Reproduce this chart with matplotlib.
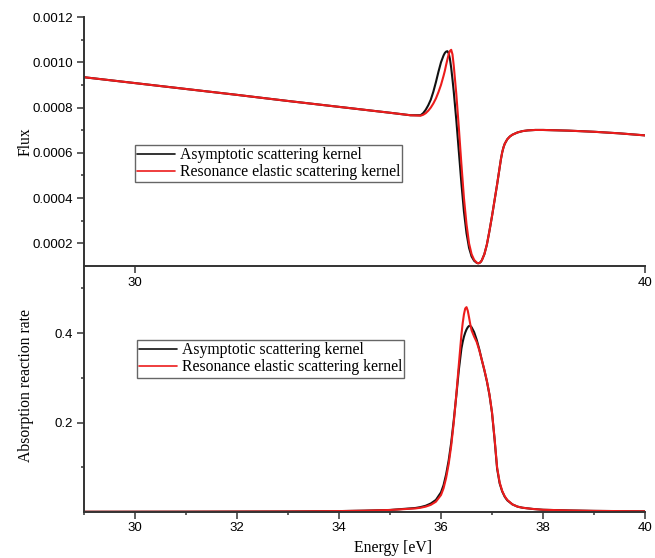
import matplotlib
matplotlib.use('Agg')
import matplotlib.pyplot as plt

# flux spectrum around the 36.7 eV resonance
flux_energy = [29.0, 30.0, 31.0, 32.0, 33.0, 34.0, 35.0, 35.4, 35.6, 35.65, 35.7, 35.75,
               35.8, 35.85, 35.9, 35.95, 36.0, 36.05, 36.075, 36.1, 36.125, 36.15, 36.175,
               36.2, 36.225, 36.25, 36.3, 36.35, 36.4, 36.45, 36.5, 36.55, 36.6, 36.65,
               36.7, 36.725, 36.75, 36.775, 36.8, 36.85, 36.9, 36.95, 37.0, 37.05, 37.1,
               37.15, 37.175, 37.2, 37.225, 37.25, 37.3, 37.35, 37.4, 37.5, 37.6, 37.7,
               37.85, 38.0, 38.5, 39.0, 39.5, 40.0]
flux_asym = [0.000934, 0.000908, 0.000882, 0.000856, 0.000829, 0.000803, 0.000777, 0.000766,
             0.000766, 0.000775, 0.000790, 0.000810, 0.000835, 0.000870, 0.000912, 0.000958,
             0.001000, 0.001030, 0.001041, 0.001047, 0.001049, 0.001040, 0.001015, 0.000975,
             0.000925, 0.000870, 0.000745, 0.000605, 0.000465, 0.000340, 0.000245, 0.000180,
             0.000142, 0.000123, 0.000114, 0.000112, 0.000113, 0.000117, 0.000125, 0.000152,
             0.000195, 0.000255, 0.000320, 0.000390, 0.000460, 0.000535, 0.000572, 0.000602,
             0.000624, 0.000640, 0.000660, 0.000672, 0.000680, 0.000690, 0.000696, 0.000699,
             0.000701, 0.000701, 0.000698, 0.000693, 0.000686, 0.000677]
flux_res = [0.000934, 0.000908, 0.000882, 0.000856, 0.000829, 0.000803, 0.000777, 0.000766,
            0.000764, 0.000768, 0.000775, 0.000786, 0.000800, 0.000818, 0.000840, 0.000868,
            0.000900, 0.000940, 0.000962, 0.000988, 0.001012, 0.001035, 0.001050, 0.001055,
            0.001035, 0.000985, 0.000860, 0.000710, 0.000550, 0.000400, 0.000285, 0.000200,
            0.000152, 0.000127, 0.000115, 0.000112, 0.000113, 0.000117, 0.000125, 0.000152,
            0.000195, 0.000255, 0.000320, 0.000390, 0.000460, 0.000535, 0.000572, 0.000602,
            0.000624, 0.000640, 0.000660, 0.000672, 0.000680, 0.000690, 0.000696, 0.000699,
            0.000701, 0.000701, 0.000698, 0.000693, 0.000686, 0.000677]

# absorption reaction rate
abs_energy = [29.0, 31.0, 33.0, 34.0, 34.5, 35.0, 35.5, 35.6, 35.7, 35.8, 35.9, 36.0, 36.05,
              36.1, 36.15, 36.2, 36.25, 36.3, 36.35, 36.4, 36.425, 36.45, 36.475, 36.5,
              36.525, 36.55, 36.575, 36.6, 36.65, 36.7, 36.75, 36.8, 36.85, 36.9, 36.95,
              37.0, 37.05, 37.1, 37.15, 37.2, 37.25, 37.3, 37.4, 37.5, 37.6, 37.8, 38.0,
              38.5, 39.0, 40.0]
abs_asym = [0.0005, 0.0007, 0.0012, 0.0020, 0.0030, 0.0045, 0.009, 0.011, 0.014, 0.019,
            0.027, 0.044, 0.060, 0.084, 0.115, 0.155, 0.205, 0.260, 0.318, 0.365, 0.380,
            0.392, 0.401, 0.408, 0.413, 0.416, 0.416, 0.413, 0.402, 0.385, 0.364, 0.340,
            0.317, 0.292, 0.262, 0.222, 0.163, 0.097, 0.064, 0.046, 0.034, 0.026, 0.017,
            0.012, 0.0095, 0.0068, 0.005, 0.0035, 0.0025, 0.0015]
abs_res = [0.0005, 0.0007, 0.0012, 0.0020, 0.0030, 0.0045, 0.008, 0.0095, 0.012, 0.016,
           0.023, 0.038, 0.053, 0.076, 0.107, 0.148, 0.200, 0.262, 0.330, 0.396, 0.422,
           0.442, 0.455, 0.458, 0.450, 0.435, 0.419, 0.406, 0.392, 0.380, 0.362, 0.340,
           0.318, 0.293, 0.263, 0.223, 0.165, 0.100, 0.066, 0.047, 0.035, 0.027, 0.017,
           0.012, 0.0095, 0.0068, 0.005, 0.0035, 0.0025, 0.0015]

series_labels = ['Asymptotic scattering kernel', 'Resonance elastic scattering kernel']
flux_ticks = [0.0002, 0.0004, 0.0006, 0.0008, 0.0010, 0.0012]
flux_minor = [0.0003, 0.0005, 0.0007, 0.0009, 0.0011]
abs_ticks = [0.2, 0.4]
abs_minor = [0.1, 0.3, 0.5]
energy_ticks = [30, 32, 34, 36, 38, 40]
energy_minor = [29, 31, 33, 35, 37, 39]

plt.rcParams['font.family'] = 'Liberation Sans'
serif = {'family': 'Liberation Serif', 'size': 11.3}
spine_c = '#333333'
black = '#111111'
red = '#ec1c1c'

fig = plt.figure(figsize=(6.55, 5.58), dpi=100)
ax2 = fig.add_axes([84 / 655, 1 - 512 / 558, 561 / 655, 246 / 558])
ax1 = fig.add_axes([84 / 655, 1 - 266 / 558, 561 / 655, 249 / 558])

for ax in (ax1, ax2):
    ax.set_facecolor('none')
    ax.spines['top'].set_visible(False)
    ax.spines['right'].set_visible(False)
    for s in ('left', 'bottom'):
        ax.spines[s].set_color(spine_c)
        ax.spines[s].set_linewidth(1.4)
    ax.tick_params(which='major', direction='out', length=5, width=1.1, color=spine_c,
                   labelsize=9.5, pad=3)
    ax.tick_params(which='minor', direction='out', length=2.5, width=1.1, color=spine_c)
    ax.set_xlim(29, 40)

line_kw = dict(lw=1.5, solid_joinstyle='round', solid_capstyle='round')

# top: flux
ax1.plot(flux_energy, flux_asym, color=black, label=series_labels[0], **line_kw)
ax1.plot(flux_energy, flux_res, color=red, label=series_labels[1], **line_kw)
ax1.set_ylim(0.0001, 0.0012)
ax1.set_yticks(flux_ticks)
ax1.set_yticklabels(['%.4f' % t for t in flux_ticks])
ax1.set_yticks(flux_minor, minor=True)
ax1.set_xticks([30, 40])
ax1.set_ylabel('Flux', fontdict=serif)
ax1.yaxis.set_label_coords(-0.09, 0.5)
leg1 = ax1.legend(loc='upper left', bbox_to_anchor=(0.0909, 0.486), prop=serif,
                  frameon=True, fancybox=False, framealpha=1, edgecolor='#666666',
                  borderpad=0.15, labelspacing=0.05, handlelength=2.4,
                  handletextpad=0.3, borderaxespad=0)

# bottom: absorption
ax2.plot(abs_energy, abs_asym, color=black, label=series_labels[0], **line_kw)
ax2.plot(abs_energy, abs_res, color=red, label=series_labels[1], **line_kw)
ax2.set_ylim(0, 0.55)
ax2.set_yticks(abs_ticks)
ax2.set_yticklabels(['%.1f' % t for t in abs_ticks])
ax2.set_yticks(abs_minor, minor=True)
ax2.set_xticks(energy_ticks)
ax2.set_xticks(energy_minor, minor=True)
ax2.tick_params(axis='x', which='major', pad=2)
ax2.set_ylabel('Absorption reaction rate', fontdict=serif)
ax2.yaxis.set_label_coords(-0.09, 0.516)
ax2.set_xlabel('Energy [eV]', fontdict=serif)
ax2.xaxis.set_label_coords(0.551, -0.114)
leg2 = ax2.legend(loc='upper left', bbox_to_anchor=(0.0945, 0.699), prop=serif,
                  frameon=True, fancybox=False, framealpha=1, edgecolor='#666666',
                  borderpad=0.15, labelspacing=0.05, handlelength=2.4,
                  handletextpad=0.3, borderaxespad=0)

for leg in (leg1, leg2):
    leg.get_frame().set_linewidth(1.0)
    for ln in leg.get_lines():
        ln.set_linewidth(1.2)

fig.savefig('out.png', dpi=100)
